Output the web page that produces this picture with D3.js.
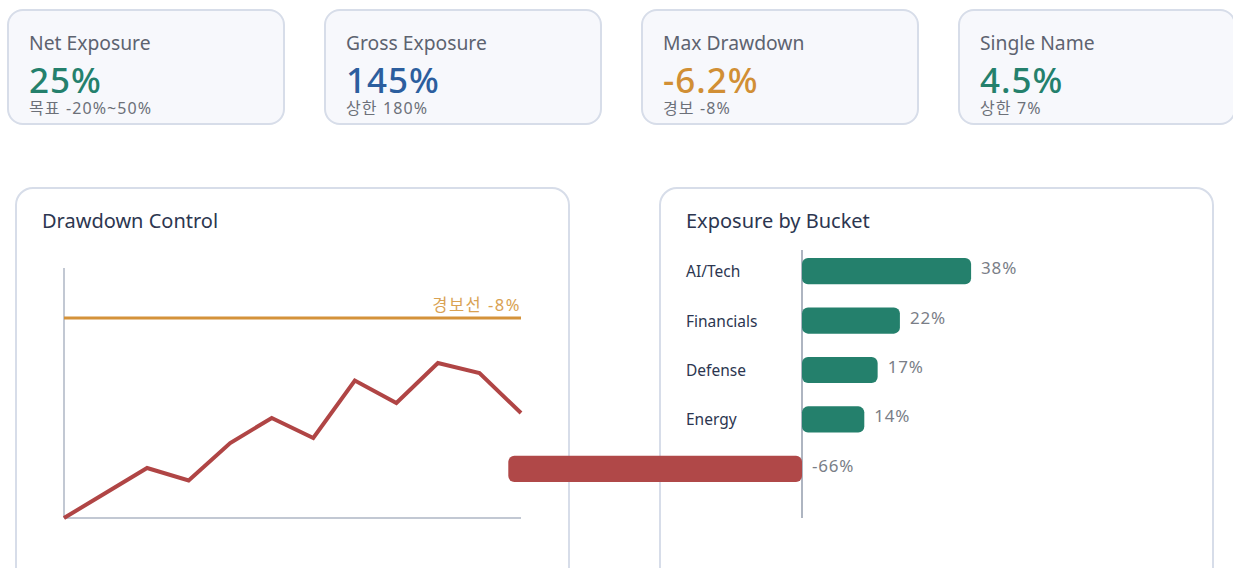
<!DOCTYPE html>
<html>
<head>
<meta charset="utf-8">
<script src="https://cdn.jsdelivr.net/npm/d3@7"></script>
<style>
  html, body { margin: 0; padding: 0; background: #fff; overflow: hidden; }
  svg { display: block; font-family: "Noto Sans", "Noto Sans CJK KR", sans-serif; overflow: visible; }
</style>
</head>
<body>
<div id="chart"></div>
<script>
// KPI cards
const kpiTitles = ['Net Exposure', 'Gross Exposure', 'Max Drawdown', 'Single Name'];
const kpiValues = ['25%', '145%', '-6.2%', '4.5%'];
const kpiNotes = ['목표 -20%~50%', '상한 180%', '경보 -8%', '상한 7%'];
const kpiTones = ['good', 'info', 'warn', 'good'];

// drawdown path (%)
const periods = ['M1', 'M2', 'M3', 'M4', 'M5', 'M6', 'M7', 'M8', 'M9', 'M10', 'M11', 'M12'];
const drawdown = [0, -1.0, -2.0, -1.5, -3.0, -4.0, -3.2, -5.5, -4.6, -6.2, -5.8, -4.2];
const warnLevel = -8;
const warnLabel = '경보선 -8%';

// exposure by bucket (%)
const buckets = ['AI/Tech', 'Financials', 'Defense', 'Energy', 'Hedge'];
const bucketValues = [38, 22, 17, 14, -66];

const W = 1233, H = 568;
const COLORS = {
  good: '#24806c',
  info: '#2c5e9e',
  warn: '#d18f35',
  bad: '#b04848',
  border: '#d7dde9',
  cardBg: '#f7f8fc',
  title: '#2c3650',
  muted: '#5d6370',
  note: '#6c7079',
  axis: '#aeb6c4'
};

const svg = d3.select('#chart').append('svg')
  .attr('width', W)
  .attr('height', H);

// --- KPI cards
const card = svg.selectAll('g.card')
  .data(kpiTitles)
  .join('g')
  .attr('class', 'card')
  .attr('transform', (d, i) => `translate(${8 + i * 317},10)`);

card.append('rect')
  .attr('width', 276).attr('height', 114)
  .attr('rx', 15)
  .attr('fill', COLORS.cardBg)
  .attr('stroke', COLORS.border)
  .attr('stroke-width', 2);

card.append('text')
  .attr('x', 21).attr('y', 40)
  .attr('font-size', 19.3)
  .attr('fill', COLORS.muted)
  .text(d => d);

card.append('text')
  .attr('x', 21).attr('y', 83)
  .attr('font-size', 35)
  .attr('font-weight', 500)
  .attr('letter-spacing', 1)
  .attr('fill', (d, i) => COLORS[kpiTones[i]])
  .text((d, i) => kpiValues[i]);

card.append('text')
  .attr('x', 21).attr('y', 104)
  .attr('font-size', 16)
  .attr('letter-spacing', 1.1)
  .attr('fill', COLORS.note)
  .text((d, i) => kpiNotes[i]);

// --- panels
function panel(x, title) {
  const g = svg.append('g').attr('transform', `translate(${x},188)`);
  g.append('rect')
    .attr('width', 553).attr('height', 420)
    .attr('rx', 17)
    .attr('fill', '#fff')
    .attr('stroke', COLORS.border)
    .attr('stroke-width', 2);
  g.append('text')
    .attr('x', 26).attr('y', 40)
    .attr('font-size', 20)
    .attr('fill', COLORS.title)
    .text(title);
  return g;
}

// Drawdown Control
const left = panel(16, 'Drawdown Control');
const lx = d3.scalePoint().domain(periods).range([48, 505]);
const ly = d3.scaleLinear().domain([0, -10]).range([330, 80]);

left.append('line')
  .attr('x1', 48).attr('x2', 48).attr('y1', 80).attr('y2', 330)
  .attr('stroke', COLORS.axis).attr('stroke-width', 1.5);
left.append('line')
  .attr('x1', 48).attr('x2', 505).attr('y1', 330).attr('y2', 330)
  .attr('stroke', COLORS.axis).attr('stroke-width', 1.5);

left.append('line')
  .attr('x1', 48).attr('x2', 505)
  .attr('y1', ly(warnLevel)).attr('y2', ly(warnLevel))
  .attr('stroke', '#d4923a').attr('stroke-width', 3);
left.append('text')
  .attr('x', 505).attr('y', ly(warnLevel) - 7)
  .attr('text-anchor', 'end')
  .attr('font-size', 16.5)
  .attr('letter-spacing', 1.5)
  .attr('fill', '#d9a253')
  .text(warnLabel);

left.append('path')
  .datum(drawdown)
  .attr('fill', 'none')
  .attr('stroke', '#b04545')
  .attr('stroke-width', 4)
  .attr('d', d3.line().x((d, i) => lx(periods[i])).y(d => ly(d)));

// Exposure by Bucket
const right = panel(660, 'Exposure by Bucket');
const bx = d3.scaleLinear().domain([0, 100]).range([142, 587]);
const by = d3.scaleBand().domain(buckets).range([62, 302]).paddingInner(0.47).paddingOuter(0.16);

right.append('line')
  .attr('x1', bx(0)).attr('x2', bx(0)).attr('y1', 62).attr('y2', 330)
  .attr('stroke', '#939cad').attr('stroke-width', 1.5);

right.selectAll('text.cat')
  .data(buckets)
  .join('text')
  .attr('class', 'cat')
  .attr('x', 26)
  .attr('y', d => by(d) + by.bandwidth() / 2 + 6)
  .attr('font-size', 15.5)
  .attr('fill', COLORS.title)
  .text(d => d);

right.selectAll('rect.bar')
  .data(bucketValues)
  .join('rect')
  .attr('class', 'bar')
  .attr('x', d => Math.min(bx(0), bx(d)))
  .attr('y', (d, i) => by(buckets[i]))
  .attr('width', d => Math.abs(bx(d) - bx(0)))
  .attr('height', by.bandwidth())
  .attr('rx', 6)
  .attr('fill', d => d < 0 ? COLORS.bad : COLORS.good);

right.selectAll('text.val')
  .data(bucketValues)
  .join('text')
  .attr('class', 'val')
  .attr('x', d => Math.max(bx(0), bx(d)) + 10)
  .attr('y', (d, i) => by(buckets[i]) + by.bandwidth() / 2 + 3)
  .attr('font-size', 17)
  .attr('letter-spacing', 0.8)
  .attr('fill', '#7a7e87')
  .text(d => d + '%');
</script>
</body>
</html>
